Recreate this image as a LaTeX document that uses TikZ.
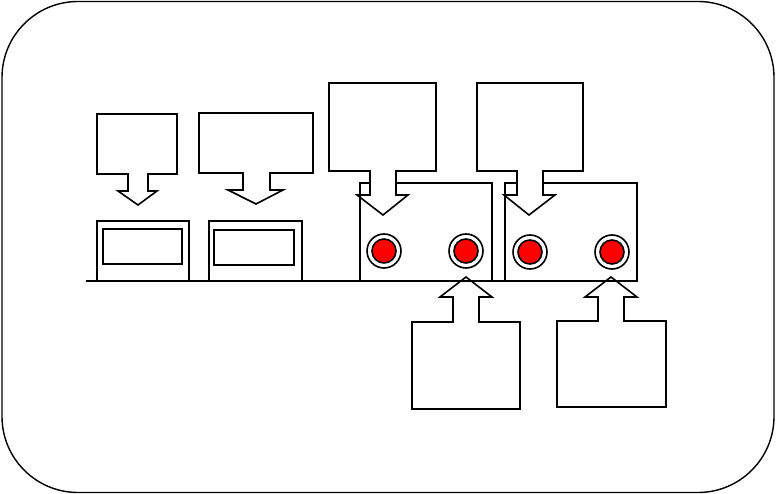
\documentclass[tikz,border=0pt]{standalone}
\begin{document}
\begin{tikzpicture}[x=1pt,y=-1pt,
  ln/.style={draw=black,line width=1.6pt,line join=miter},
  callout/.style={ln,fill=white},
  devbox/.style={ln},
  ring/.style={ln,fill=white},
  lamp/.style={ln,fill=red}]
\useasboundingbox (0,0) rectangle (776,494);
\draw[ln,line width=1.4pt,rounded corners=76pt] (2,1.5) rectangle (774,492.5);
% bottom callouts (pointing up)
\coordinate (c5t) at (466,277); \coordinate (c5w) at (440,297);
\path[callout] (412,409) -- (520,409) -- (520,322) -- (479,322) -- (479,297) -- (492,297) -- (c5t) -- (c5w) -- (453,297) -- (453,322) -- (412,322) -- cycle;
\coordinate (c6t) at (611,277); \coordinate (c6w) at (585,297);
\path[callout] (557,407) -- (666,407) -- (666,321) -- (624,321) -- (624,297) -- (637,297) -- (c6t) -- (c6w) -- (598,297) -- (598,321) -- (557,321) -- cycle;
% devices
\draw[devbox] (97,221) rectangle (189,281);
\draw[devbox] (103,229) rectangle (182,264);
\draw[devbox] (209,221) rectangle (302,281);
\draw[devbox] (214,230) rectangle (294,265);
\draw[devbox] (360,183) rectangle (492,281);
\draw[devbox] (505,183) rectangle (637,281);
\coordinate (gl) at (86,281); \coordinate (gr) at (637,281);
\draw[ln] (gl) -- (gr);
\foreach \cx/\cy in {384/251,466/251,530/252,612/252}{
  \draw[ring] (\cx,\cy) circle (17);
  \draw[lamp] (\cx,\cy) circle (12);
}
% top callouts (pointing down)
\path[callout] (97,114) -- (177,114) -- (177,174) -- (148,174) -- (148,191) -- (157,191) -- (138,205) -- (118,191) -- (128,191) -- (128,174) -- (97,174) -- cycle;
\path[callout] (199,113) -- (313,113) -- (313,173) -- (270,173) -- (270,190) -- (283,190) -- (256,204) -- (228,190) -- (243,190) -- (243,173) -- (199,173) -- cycle;
\path[callout] (329,83) -- (436,83) -- (436,171) -- (396,171) -- (396,195) -- (408,195) -- (383,215) -- (357,195) -- (370,195) -- (370,171) -- (329,171) -- cycle;
\path[callout] (477,83) -- (583,83) -- (583,171) -- (543,171) -- (543,195) -- (555,195) -- (529,215) -- (504,195) -- (517,195) -- (517,171) -- (477,171) -- cycle;
% left edges of devices show through arrowheads
\draw[ln] (360,183) -- (360,281);
\draw[ln] (505,183) -- (505,281);
\end{tikzpicture}
\end{document}
